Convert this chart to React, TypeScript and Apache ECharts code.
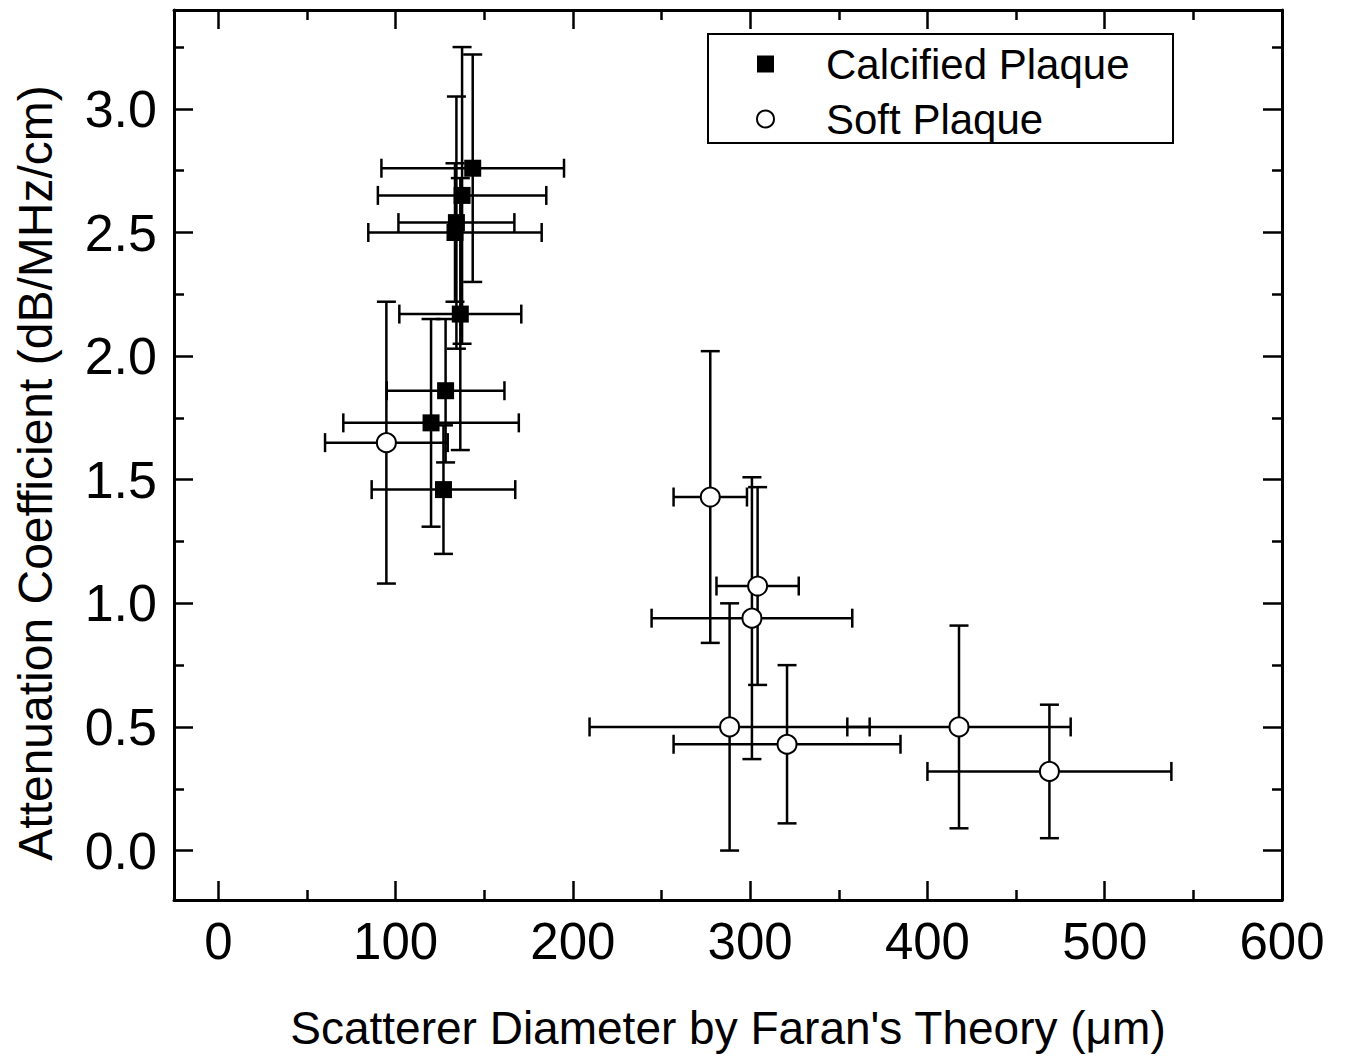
import React, { useEffect, useRef } from "react";
import * as echarts from "echarts";

// Calcified plaque: diameter (µm), attenuation, symmetric x / y errors
const calcX = [143.5, 137.5, 134.3, 133.5, 136.5, 128.2, 120.0, 127.0];
const calcY = [2.76, 2.65, 2.54, 2.5, 2.17, 1.86, 1.73, 1.46];
const calcXErr = [51.5, 47.5, 32.7, 48.9, 34.4, 33.2, 49.5, 40.5];
const calcYErr = [0.46, 0.6, 0.51, 0.28, 0.55, 0.29, 0.42, 0.26];

// Soft plaque
const softX = [94.8, 277.5, 304.2, 301.0, 288.4, 320.8, 417.8, 468.8];
const softY = [1.65, 1.43, 1.07, 0.94, 0.5, 0.43, 0.5, 0.32];
const softXErr = [34.6, 20.7, 23.2, 56.6, 79.0, 64.0, 63.0, 68.8];
const softYErr = [0.57, 0.59, 0.4, 0.57, 0.5, 0.32, 0.41, 0.27];

const xMajor = [0, 100, 200, 300, 400, 500, 600];
const xMinor = [50, 150, 250, 350, 450, 550];
const yMajor = [0, 0.5, 1, 1.5, 2, 2.5, 3];
const yMinor = [0.25, 0.75, 1.25, 1.75, 2.25, 2.75, 3.25];

const X_MIN = -25;
const X_MAX = 600;
const Y_MIN = -0.2;
const Y_MAX = 3.4;

const FONT = "'Liberation Sans', Arial, Helvetica, sans-serif";

function App() {
  const ref = useRef<HTMLDivElement>(null);

  useEffect(() => {
    if (!ref.current) return;
    const chart = echarts.init(ref.current, undefined, { renderer: "svg" });

    const errData = [
      ...calcX.map((x, i) => [x, calcY[i], calcXErr[i], calcYErr[i]]),
      ...softX.map((x, i) => [x, softY[i], softXErr[i], softYErr[i]]),
    ];

    const cap = 9.5;
    const lineStyle = { stroke: "#000", lineWidth: 2.5 };

    const renderItem = (_params: any, api: any) => {
      const x = api.value(0);
      const y = api.value(1);
      const ex = api.value(2);
      const ey = api.value(3);
      const c = api.coord([x, y]);
      const l = api.coord([x - ex, y]);
      const r = api.coord([x + ex, y]);
      const t = api.coord([x, y + ey]);
      const b = api.coord([x, y - ey]);
      return {
        type: "group",
        children: [
          { type: "line", shape: { x1: l[0], y1: c[1], x2: r[0], y2: c[1] }, style: lineStyle },
          { type: "line", shape: { x1: l[0], y1: c[1] - cap, x2: l[0], y2: c[1] + cap }, style: lineStyle },
          { type: "line", shape: { x1: r[0], y1: c[1] - cap, x2: r[0], y2: c[1] + cap }, style: lineStyle },
          { type: "line", shape: { x1: c[0], y1: t[1], x2: c[0], y2: b[1] }, style: lineStyle },
          { type: "line", shape: { x1: c[0] - cap, y1: t[1], x2: c[0] + cap, y2: t[1] }, style: lineStyle },
          { type: "line", shape: { x1: c[0] - cap, y1: b[1], x2: c[0] + cap, y2: b[1] }, style: lineStyle },
        ],
      };
    };

    const axisLineOn = { show: true, onZero: false, lineStyle: { color: "#000", width: 3 } };
    const axisLineOff = { show: false, onZero: false };

    const mkX = (position: string, values: number[], len: number, withLine: boolean, withLabel: boolean, extra: any = {}) => ({
      type: "value",
      position,
      min: X_MIN,
      max: X_MAX,
      axisLine: withLine ? axisLineOn : axisLineOff,
      axisTick: { show: true, inside: true, length: len, customValues: values, lineStyle: { color: "#000", width: 2.5 } },
      axisLabel: withLabel
        ? { show: true, customValues: values, fontSize: 51, color: "#000", fontFamily: FONT, margin: 16 }
        : { show: false },
      splitLine: { show: false },
      ...extra,
    });

    const mkY = (position: string, values: number[], len: number, withLine: boolean, withLabel: boolean) => ({
      type: "value",
      position,
      min: Y_MIN,
      max: Y_MAX,
      axisLine: withLine ? axisLineOn : axisLineOff,
      axisTick: { show: true, inside: true, length: len, customValues: values, lineStyle: { color: "#000", width: 2.5 } },
      axisLabel: withLabel
        ? {
            show: true,
            customValues: values,
            fontSize: 52,
            color: "#000",
            fontFamily: FONT,
            margin: 17,
            formatter: (v: number) => v.toFixed(1),
          }
        : { show: false },
      splitLine: { show: false },
    });

    chart.setOption({
      animation: false,
      backgroundColor: "#fff",
      grid: { left: 174, top: 10, right: 63, bottom: 159, containLabel: false },
      xAxis: [
        mkX("bottom", xMajor, 19, true, true, {
          name: "Scatterer Diameter by Faran's Theory (\u03bcm)",
          nameLocation: "middle",
          nameGap: 105,
          nameTextStyle: { fontSize: 46, color: "#000", fontFamily: FONT },
        }),
        mkX("bottom", xMinor, 10, false, false),
        mkX("top", xMajor, 19, true, false),
        mkX("top", xMinor, 10, false, false),
      ],
      yAxis: [
        mkY("left", yMajor, 19, true, true),
        mkY("left", yMinor, 10, false, false),
        mkY("right", yMajor, 19, true, false),
        mkY("right", yMinor, 10, false, false),
      ],
      legend: {
        data: ["Calcified Plaque", "Soft Plaque"],
        orient: "vertical",
        left: 756,
        top: 43,
        padding: 0,
        itemWidth: 17,
        itemHeight: 17,
        itemGap: 13,
        textStyle: { fontSize: 42, color: "#000", fontFamily: FONT, lineHeight: 42, padding: [0, 0, 0, 47] },
      },
      graphic: [
        {
          type: "rect",
          shape: { x: 708, y: 34, width: 465, height: 109 },
          style: { fill: "none", stroke: "#000", lineWidth: 2 },
          silent: true,
          z: 0,
        },
        {
          type: "text",
          x: 35,
          y: 473,
          rotation: Math.PI / 2,
          style: {
            text: "Attenuation Coefficient (dB/MHz/cm)",
            fontSize: 48,
            fontFamily: FONT,
            fill: "#000",
            align: "center",
            verticalAlign: "middle",
          },
        },
      ],
      series: [
        {
          name: "err",
          type: "custom",
          xAxisIndex: 0,
          yAxisIndex: 0,
          renderItem,
          data: errData,
          encode: { x: 0, y: 1 },
          z: 1,
          silent: true,
        },
        {
          name: "Calcified Plaque",
          type: "scatter",
          xAxisIndex: 0,
          yAxisIndex: 0,
          symbol: "rect",
          symbolSize: 17,
          itemStyle: { color: "#000", opacity: 1 },
          data: calcX.map((x, i) => [x, calcY[i]]),
          z: 3,
        },
        {
          name: "Soft Plaque",
          type: "scatter",
          xAxisIndex: 0,
          yAxisIndex: 0,
          symbol: "circle",
          symbolSize: 19,
          itemStyle: { color: "#fff", borderColor: "#000", borderWidth: 2, opacity: 1 },
          data: softX.map((x, i) => [x, softY[i]]),
          z: 3,
        },
      ],
    });

    return () => chart.dispose();
  }, []);

  return (
    <div
      ref={ref}
      style={{ position: "fixed", left: 0, top: 0, width: 1345, height: 1059, background: "#fff" }}
    />
  );
}

export default App;
